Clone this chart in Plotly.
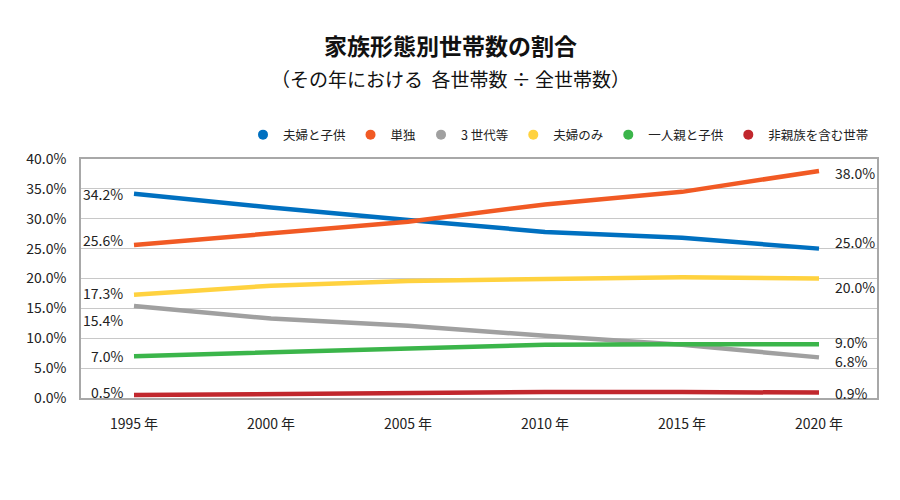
import plotly.graph_objects as go

years = ["1995 年", "2000 年", "2005 年", "2010 年", "2015 年", "2020 年"]
series_names = ["夫婦と子供", "単独", "3 世代等", "夫婦のみ", "一人親と子供", "非親族を含む世帯"]
fufu_kodomo = [34.2, 31.9, 29.8, 27.8, 26.8, 25.0]
tandoku = [25.6, 27.6, 29.5, 32.4, 34.5, 38.0]
sansedai = [15.4, 13.3, 12.1, 10.4, 8.9, 6.8]
fufu_nomi = [17.3, 18.8, 19.6, 19.9, 20.2, 20.0]
hitorioya = [7.0, 7.6, 8.3, 8.9, 9.0, 9.0]
hishinzoku = [0.5, 0.7, 0.9, 1.0, 1.0, 0.9]
values = [fufu_kodomo, tandoku, sansedai, fufu_nomi, hitorioya, hishinzoku]
colors = ["#0070C0", "#F15A24", "#A0A0A0", "#FFD23F", "#3BB54A", "#C1272D"]
# label vertical offsets (px) for start / end labels
start_shift = [0, 5, -14, 2, 0, 3]
end_shift = [7, -2, -4, -8, 2, 0]

FONT = "Noto Sans CJK JP"
W, H = 884, 484          # page body has an 8px margin
L, T, R, B = 73, 151, 15, 94
PW, PH = W - L - R, H - T - B

fig = go.Figure()
for name, v, c in zip(series_names, values, colors):
    fig.add_trace(go.Scatter(x=years, y=v, name=name, mode="lines", showlegend=False,
                             line=dict(color=c, width=4.5)))
for name, c in zip(series_names, colors):
    fig.add_trace(go.Scatter(x=[None], y=[None], name=name, mode="markers",
                             marker=dict(color=c, size=10, symbol="circle")))

anns = []
for v, s0, s1 in zip(values, start_shift, end_shift):
    anns.append(dict(x=years[0], y=v[0], text=f"{v[0]:.1f}%", showarrow=False,
                     xanchor="right", xshift=-9, yshift=s0,
                     font=dict(family=FONT, size=14, color="#222")))
    anns.append(dict(x=years[-1], y=v[-1], text=f"{v[-1]:.1f}%", showarrow=False,
                     xanchor="left", xshift=14, yshift=s1,
                     font=dict(family=FONT, size=14, color="#222")))
cx = (442 - L) / PW
anns.append(dict(xref="paper", yref="paper", x=cx, y=1 + (T - 37) / PH,
                 text="<b>家族形態別世帯数の割合</b>", showarrow=False, yanchor="middle",
                 font=dict(family=FONT, size=23, color="#111")))
anns.append(dict(xref="paper", yref="paper", x=cx, y=1 + (T - 70) / PH,
                 text="（その年における  各世帯数 ÷ 全世帯数）", showarrow=False, yanchor="middle",
                 font=dict(family=FONT, size=19, color="#111")))

fig.update_layout(
    width=W, height=H,
    margin=dict(l=L, r=R, t=T, b=B, autoexpand=False),
    paper_bgcolor="white", plot_bgcolor="white",
    font=dict(family=FONT, size=14, color="#222"),
    showlegend=True,
    legend=dict(orientation="h", x=(866 - L) / PW, xanchor="right",
                y=1 + (T - 127) / PH, yanchor="middle",
                font=dict(family=FONT, size=12.5, color="#222"),
                itemwidth=30, bgcolor="rgba(0,0,0,0)"),
    xaxis=dict(showgrid=False, showline=True, mirror=True, linecolor="#A8A8A8",
               linewidth=1.5, ticks="", ticklabelstandoff=12, tickfont=dict(size=14)),
    yaxis=dict(range=[0, 40], dtick=5, tickformat=".1f", ticksuffix="%",
               showgrid=True, gridcolor="#C8C8C8", gridwidth=1,
               showline=True, mirror=True, linecolor="#A8A8A8", linewidth=1.5,
               zeroline=False, ticks="", ticklabelstandoff=10, tickfont=dict(size=14)),
    annotations=anns,
)
fig.write_html("out.html")
